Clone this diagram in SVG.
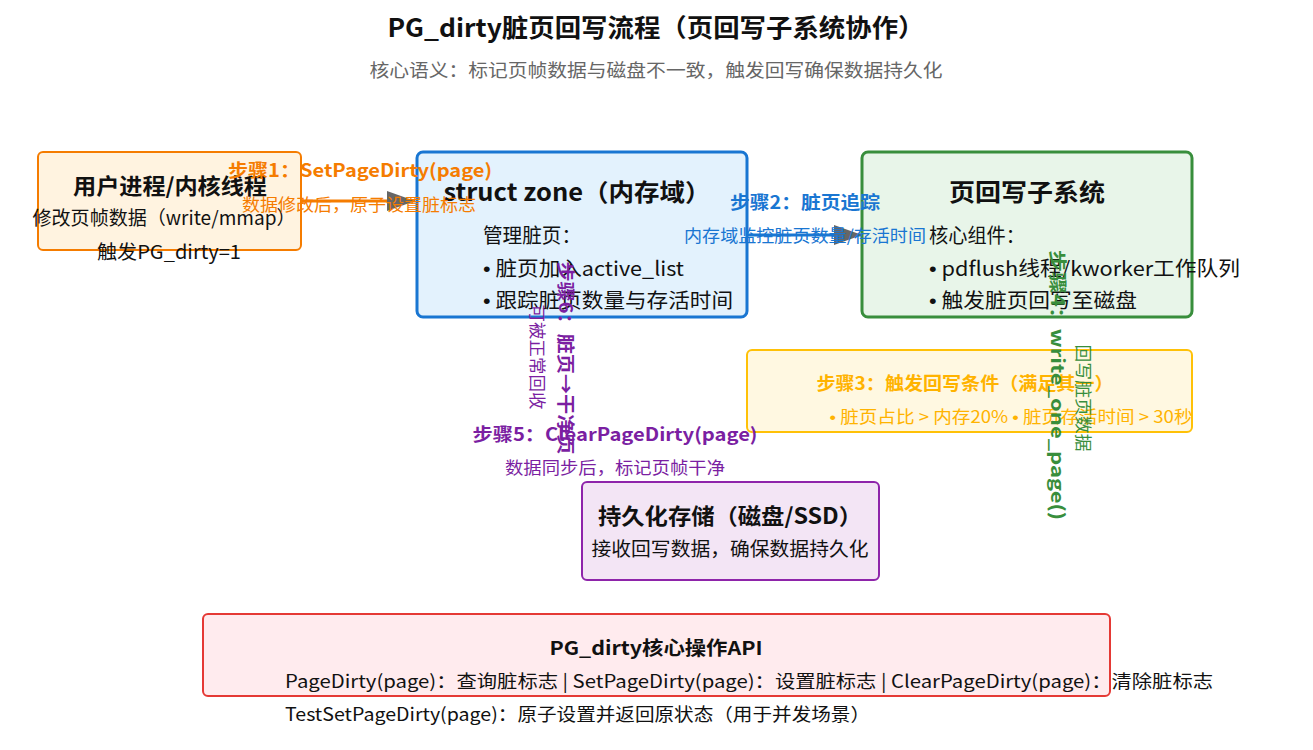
<svg xmlns="http://www.w3.org/2000/svg" width="1313" height="750" viewBox="0 0 1313 750">
<defs>
<style>
text{font-family:"Noto Sans CJK SC","Liberation Sans",sans-serif;}
.b{font-weight:bold;}
.c{text-anchor:middle;}
.blk{fill:#111;}
.box{stroke-width:2;}
.dot{font-family:"Liberation Sans",sans-serif;}
</style>
<marker id="ah" markerUnits="userSpaceOnUse" markerWidth="30" markerHeight="22" refX="28" refY="11" orient="auto">
<path d="M0,1 L28,11 L0,21 z" fill="#666"/>
</marker>
</defs>
<rect width="1313" height="750" fill="#fff"/>
<g id="title">
<text x="656" y="37" class="b c blk" font-size="25" textLength="537" lengthAdjust="spacingAndGlyphs">PG_dirty脏页回写流程（页回写子系统协作）</text>
<text x="656" y="77" class="c" font-size="18" fill="#666" textLength="573" lengthAdjust="spacingAndGlyphs">核心语义：标记页帧数据与磁盘不一致，触发回写确保数据持久化</text>
</g>
<g id="user">
<rect x="38" y="152" width="263" height="98" rx="5" fill="#fff3e0" stroke="#f57c00" class="box"/>
<text x="170" y="194" class="b c blk" font-size="22" textLength="194" lengthAdjust="spacingAndGlyphs">用户进程/内核线程</text>
<text x="164" y="225" class="c blk" font-size="19" textLength="263" lengthAdjust="spacingAndGlyphs">修改页帧数据（write/mmap）</text>
<text x="169" y="259" class="c blk" font-size="19" textLength="144" lengthAdjust="spacingAndGlyphs">触发PG_dirty=1</text>
</g>
<g id="zone">
<rect x="417" y="152" width="330" height="165" rx="6" fill="#e3f2fd" stroke="#1976d2" stroke-width="3"/>
<text x="577" y="201" class="b c blk" font-size="24" textLength="267" lengthAdjust="spacingAndGlyphs">struct zone（内存域）</text>
<text x="483" y="243" class="blk" font-size="20" textLength="98" lengthAdjust="spacingAndGlyphs">管理脏页：</text>
<text x="483" y="276" class="blk" font-size="20" textLength="201" lengthAdjust="spacingAndGlyphs"><tspan class="dot">•</tspan> 脏页加入active_list</text>
<text x="483" y="308" class="blk" font-size="20" textLength="250" lengthAdjust="spacingAndGlyphs"><tspan class="dot">•</tspan> 跟踪脏页数量与存活时间</text>
</g>
<g id="writeback">
<rect x="862" y="152" width="330" height="165" rx="6" fill="#e8f5e9" stroke="#388e3c" stroke-width="3"/>
<text x="1027" y="201" class="b c blk" font-size="24" textLength="156" lengthAdjust="spacingAndGlyphs">页回写子系统</text>
<text x="929" y="243" class="blk" font-size="20" textLength="96" lengthAdjust="spacingAndGlyphs">核心组件：</text>
<text x="929" y="276" class="blk" font-size="20" textLength="311" lengthAdjust="spacingAndGlyphs"><tspan class="dot">•</tspan> pdflush线程/kworker工作队列</text>
<text x="929" y="308" class="blk" font-size="20" textLength="208" lengthAdjust="spacingAndGlyphs"><tspan class="dot">•</tspan> 触发脏页回写至磁盘</text>
</g>
<g id="cond">
<rect x="747" y="350" width="445" height="82" rx="5" fill="#fff8e1" stroke="#ffc107" class="box"/>
<text x="965" y="390" class="b c" font-size="18" fill="#ffb300" textLength="297" lengthAdjust="spacingAndGlyphs">步骤3：触发回写条件（满足其一）</text>
<text x="1011" y="423" class="c" font-size="17" fill="#ffb300" textLength="363" lengthAdjust="spacingAndGlyphs"><tspan class="dot">•</tspan> 脏页占比 &gt; 内存20% <tspan class="dot">•</tspan> 脏页存活时间 &gt; 30秒</text>
</g>
<g id="storage">
<rect x="582" y="482" width="297" height="98" rx="5" fill="#f3e5f5" stroke="#8e24aa" class="box"/>
<text x="730" y="524" class="b c blk" font-size="22" textLength="264" lengthAdjust="spacingAndGlyphs">持久化存储（磁盘/SSD）</text>
<text x="730" y="556" class="c blk" font-size="19" textLength="277" lengthAdjust="spacingAndGlyphs">接收回写数据，确保数据持久化</text>
</g>
<g id="api">
<rect x="203" y="614" width="907" height="82" rx="5" fill="#ffebee" stroke="#e53935" class="box"/>
<text x="656" y="655" class="b c blk" font-size="19" textLength="213" lengthAdjust="spacingAndGlyphs">PG_dirty核心操作API</text>
<text x="285" y="688" class="blk" font-size="18" textLength="928" lengthAdjust="spacingAndGlyphs">PageDirty(page)：查询脏标志 | SetPageDirty(page)：设置脏标志 | ClearPageDirty(page)：清除脏标志</text>
<text x="285" y="721" class="blk" font-size="18" textLength="585" lengthAdjust="spacingAndGlyphs">TestSetPageDirty(page)：原子设置并返回原状态（用于并发场景）</text>
</g>
<g id="connectors">
<line x1="302" y1="201" x2="415" y2="201" stroke="#f57c00" stroke-width="3" marker-end="url(#ah)"/>
<line x1="748" y1="235" x2="862" y2="235" stroke="#1976d2" stroke-width="3" marker-end="url(#ah)"/>
<text x="360" y="177" class="b c" font-size="18" fill="#f57c00" textLength="264" lengthAdjust="spacingAndGlyphs">步骤1：SetPageDirty(page)</text>
<text x="359" y="211" class="c" font-size="17" fill="#f57c00" textLength="234" lengthAdjust="spacingAndGlyphs">数据修改后，原子设置脏标志</text>
<text x="805" y="209" class="b c" font-size="18" fill="#1976d2" textLength="150" lengthAdjust="spacingAndGlyphs">步骤2：脏页追踪</text>
<text x="805" y="242" class="c" font-size="17" fill="#1976d2" textLength="242" lengthAdjust="spacingAndGlyphs">内存域监控脏页数量/存活时间</text>
<text transform="translate(1057,385) rotate(90)" x="0" y="6" class="b c" font-size="18" fill="#388e3c" textLength="270" lengthAdjust="spacingAndGlyphs">步骤4：write_one_page()</text>
<text transform="translate(1083,398) rotate(90)" x="0" y="6" class="c" font-size="17" fill="#388e3c" textLength="107" lengthAdjust="spacingAndGlyphs">回写脏页数据</text>
<text x="615" y="441" class="b c" font-size="18" fill="#7b1fa2" textLength="285" lengthAdjust="spacingAndGlyphs">步骤5：ClearPageDirty(page)</text>
<text x="615" y="474" class="c" font-size="17" fill="#7b1fa2" textLength="220" lengthAdjust="spacingAndGlyphs">数据同步后，标记页帧干净</text>
<text transform="translate(565,358) rotate(90)" x="0" y="6" class="b c" font-size="18" fill="#7b1fa2" textLength="193" lengthAdjust="spacingAndGlyphs">步骤6：脏页→干净页</text>
<text transform="translate(537,357) rotate(90)" x="0" y="6" class="c" font-size="17" fill="#7b1fa2" textLength="105" lengthAdjust="spacingAndGlyphs">可被正常回收</text>
</g>
</svg>
